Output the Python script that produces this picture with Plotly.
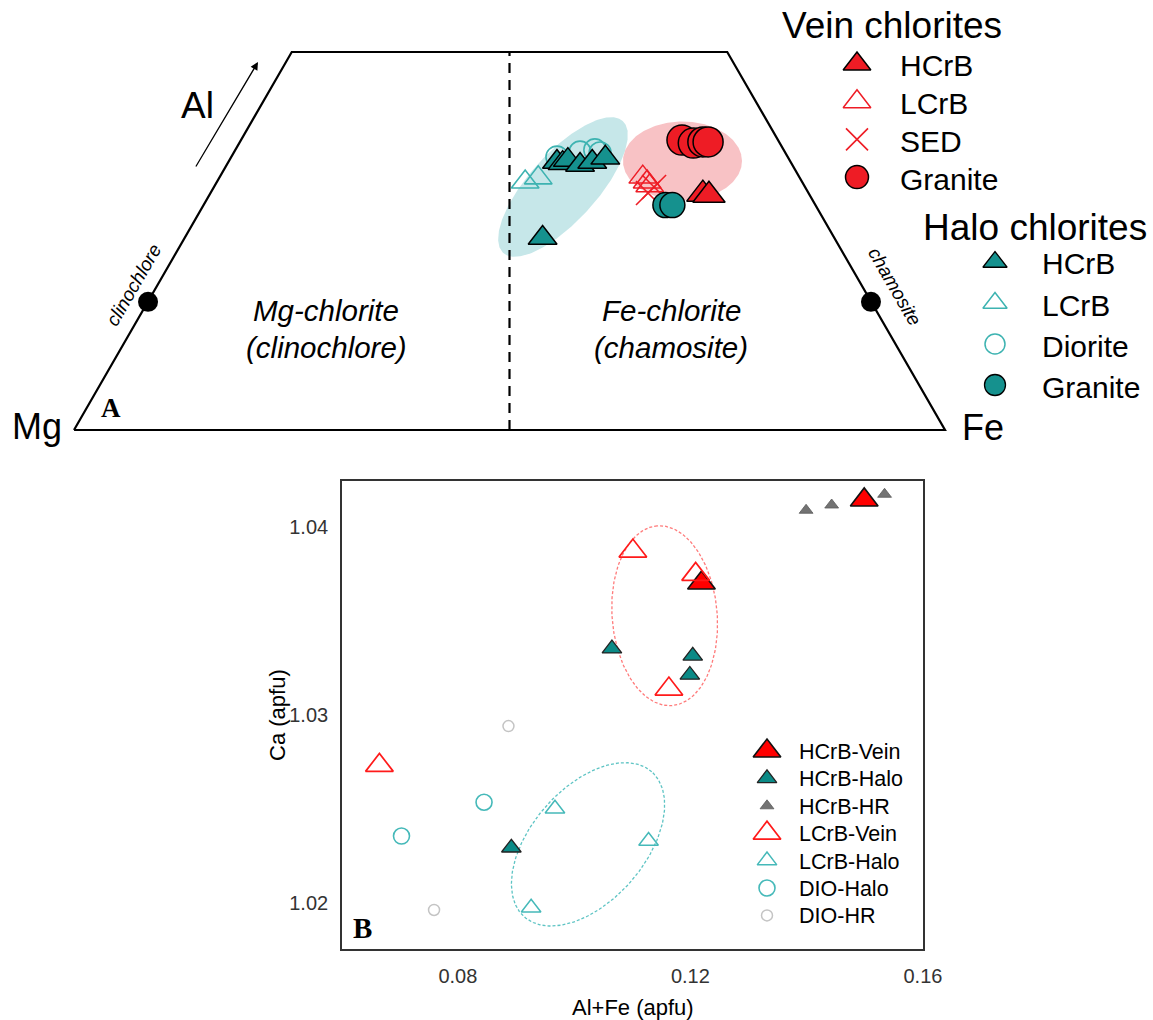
import numpy as np
import plotly.graph_objects as go

W, H = 1153, 1020

# ---------------- Panel A : chlorite classification diagram ----------------
# u : Mg (0) -> Fe (1) position ; v : Al position (0 = base, 1 = top edge)
TRAP_U = [0.0, 0.25, 0.75, 1.0, 0.0]
TRAP_V = [0.0, 1.0, 1.0, 0.0, 0.0]
DIVIDE_U = [0.5, 0.5]
DIVIDE_V = [0.0, 1.0]
END_MEMBER_U = [0.085, 0.915]
END_MEMBER_V = [0.339, 0.339]

VEIN_HCRB_U = [0.722, 0.729]
VEIN_HCRB_V = [0.624, 0.621]
VEIN_LCRB_U = [0.653, 0.658, 0.661]
VEIN_LCRB_V = [0.669, 0.656, 0.646]
VEIN_SED_U = [0.666, 0.659]
VEIN_SED_V = [0.643, 0.627]
VEIN_GRANITE_U = [0.698, 0.711, 0.722, 0.728]
VEIN_GRANITE_V = [0.767, 0.759, 0.762, 0.762]

HALO_HCRB_U = [0.5545, 0.561, 0.567, 0.581, 0.595, 0.610, 0.538]
HALO_HCRB_V = [0.709, 0.706, 0.714, 0.701, 0.709, 0.720, 0.508]
HALO_LCRB_U = [0.518, 0.533]
HALO_LCRB_V = [0.656, 0.667]
HALO_DIORITE_U = [0.5545, 0.581, 0.598, 0.604]
HALO_DIORITE_V = [0.722, 0.735, 0.741, 0.733]
HALO_GRANITE_U = [0.679, 0.687]
HALO_GRANITE_V = [0.595, 0.595]

# ellipses (center u, center v, semi-major px, semi-minor px, angle deg)
ELL_A_HALO = [0.5614, 0.6429, 89.0, 34.0, 47.85]
ELL_A_VEIN = [0.6986, 0.7116, 59.5, 39.5, 0.0]

# ---------------- Panel B : Ca vs Al+Fe ----------------
HCRB_VEIN_X = [0.1499, 0.1219]
HCRB_VEIN_Y = [1.04144, 1.03702]
HCRB_HALO_X = [0.1065, 0.1204, 0.1199, 0.0892]
HCRB_HALO_Y = [1.03353, 1.03315, 1.03213, 1.02294]
HCRB_HR_X = [0.1399, 0.1443, 0.1534]
HCRB_HR_Y = [1.04089, 1.04117, 1.04174]
LCRB_VEIN_X = [0.1101, 0.1209, 0.1163, 0.0665]
LCRB_VEIN_Y = [1.03872, 1.03748, 1.03138, 1.02732]
LCRB_HALO_X = [0.0967, 0.1128, 0.0926]
LCRB_HALO_Y = [1.02501, 1.02330, 1.01975]
DIO_HALO_X = [0.0845, 0.0703]
DIO_HALO_Y = [1.02536, 1.02356]
DIO_HR_X = [0.0887, 0.0759]
DIO_HR_Y = [1.02941, 1.01963]

ELL_B_VEIN = [0.11557, 1.03528, 90.2, 52.6, 94.8]
ELL_B_HALO = [0.10239, 1.02312, 96.6, 56.8, 48.7]

X_TICKS = [0.08, 0.12, 0.16]
Y_TICKS = [1.02, 1.03, 1.04]

# ---------------- layout geometry ----------------
A_PXU, A_PXV = 871.0, 378.0          # px per diagram unit
A_X0, A_Y0 = 74.0, 430.0             # pixel position of Mg corner
A_TOP = 440.0                        # panel A height (px)

B_L, B_R, B_T, B_B = 342.0, 923.0, 481.0, 949.0
B_PXX, B_PXY = 5819.0, 18800.0
B_XREF, B_XREFPX = 0.08, 458.0
B_YREF, B_YREFPX = 1.04, 527.0

FONT = "Arial, Liberation Sans, Helvetica, sans-serif"
SERIF = "Times New Roman, Liberation Serif, serif"

RED = "#EE1C25"
TEAL = "#15918E"
TEAL_OPEN = "#3DB3B1"


def ell(p, sx, sy, n=260):
    cx, cy, a, b, ang = p
    t = np.linspace(0, 2 * np.pi, n)
    ph = np.deg2rad(ang)
    dx = a * np.cos(t) * np.cos(ph) - b * np.sin(t) * np.sin(ph)
    dy = a * np.cos(t) * np.sin(ph) + b * np.sin(t) * np.cos(ph)
    return cx + dx / sx, cy + dy / sy


def px(x, y):
    return x / W, 1 - y / H


fig = go.Figure()

# ---- Panel A traces (x2/y2) ----
A = dict(xaxis="x2", yaxis="y2", showlegend=False, hoverinfo="skip")
ex, ey = ell(ELL_A_HALO, A_PXU, A_PXV)
fig.add_trace(go.Scatter(x=ex, y=ey, mode="lines", fill="toself",
                         fillcolor="#C6E7E9", line=dict(width=0, color="#C6E7E9"), **A))
ex, ey = ell(ELL_A_VEIN, A_PXU, A_PXV)
fig.add_trace(go.Scatter(x=ex, y=ey, mode="lines", fill="toself",
                         fillcolor="#F8C2C5", line=dict(width=0, color="#F8C2C5"), **A))
fig.add_trace(go.Scatter(x=TRAP_U, y=TRAP_V, mode="lines",
                         line=dict(color="black", width=2.2), **A))
fig.add_trace(go.Scatter(x=DIVIDE_U, y=DIVIDE_V, mode="lines",
                         line=dict(color="black", width=2.2, dash="10px,7px"), **A))
fig.add_trace(go.Scatter(x=END_MEMBER_U, y=END_MEMBER_V, mode="markers",
                         marker=dict(color="black", size=20), **A))

fig.add_trace(go.Scatter(x=HALO_DIORITE_U, y=HALO_DIORITE_V, mode="markers",
                         marker=dict(symbol="circle-open", size=22, color=TEAL_OPEN,
                                     line=dict(width=1.6)), **A))
fig.add_trace(go.Scatter(x=HALO_LCRB_U, y=HALO_LCRB_V, mode="markers",
                         marker=dict(symbol="triangle-up-open", size=24, color=TEAL_OPEN,
                                     line=dict(width=1.6)), **A))
fig.add_trace(go.Scatter(x=HALO_HCRB_U, y=HALO_HCRB_V, mode="markers",
                         marker=dict(symbol="triangle-up", size=25, color=TEAL,
                                     line=dict(width=1.5, color="black")), **A))
fig.add_trace(go.Scatter(x=VEIN_LCRB_U, y=VEIN_LCRB_V, mode="markers",
                         marker=dict(symbol="triangle-up-open", size=24, color=RED,
                                     line=dict(width=1.5)), **A))
fig.add_trace(go.Scatter(x=VEIN_SED_U, y=VEIN_SED_V, mode="markers",
                         marker=dict(symbol="x-thin-open", size=24, color=RED,
                                     line=dict(width=1.6, color=RED)), **A))
fig.add_trace(go.Scatter(x=HALO_GRANITE_U, y=HALO_GRANITE_V, mode="markers",
                         marker=dict(symbol="circle", size=25, color=TEAL,
                                     line=dict(width=1.5, color="black")), **A))
fig.add_trace(go.Scatter(x=VEIN_GRANITE_U, y=VEIN_GRANITE_V, mode="markers",
                         marker=dict(symbol="circle", size=30, color=RED,
                                     line=dict(width=1.5, color="black")), **A))
fig.add_trace(go.Scatter(x=VEIN_HCRB_U, y=VEIN_HCRB_V, mode="markers",
                         marker=dict(symbol="triangle-up", size=28, color=RED,
                                     line=dict(width=1.5, color="black")), **A))

# ---- Panel B traces (x/y) ----
B = dict(xaxis="x", yaxis="y", showlegend=False, hoverinfo="skip")
ex, ey = ell(ELL_B_VEIN, B_PXX, B_PXY)
fig.add_trace(go.Scatter(x=ex, y=ey, mode="lines",
                         line=dict(color="#FF7B7B", width=1.3, dash="3px,2px"), **B))
ex, ey = ell(ELL_B_HALO, B_PXX, B_PXY)
fig.add_trace(go.Scatter(x=ex, y=ey, mode="lines",
                         line=dict(color="#5EC4C4", width=1.3, dash="3px,2px"), **B))

B_STYLES = [
    ("HCrB-HR", HCRB_HR_X, HCRB_HR_Y, dict(symbol="triangle-up", size=12, color="#737373",
                                          line=dict(width=0.8, color="#5A5A5A"))),
    ("DIO-HR", DIO_HR_X, DIO_HR_Y, dict(symbol="circle-open", size=11, color="#C4C4C4",
                                        line=dict(width=1.5))),
    ("DIO-Halo", DIO_HALO_X, DIO_HALO_Y, dict(symbol="circle-open", size=16, color="#45B9B9",
                                              line=dict(width=1.6))),
    ("LCrB-Halo", LCRB_HALO_X, LCRB_HALO_Y, dict(symbol="triangle-up-open", size=17,
                                                 color="#45B9B9", line=dict(width=1.5))),
    ("HCrB-Halo", HCRB_HALO_X, HCRB_HALO_Y, dict(symbol="triangle-up", size=17, color="#0B8A86",
                                                 line=dict(width=1.3, color="#222222"))),
    ("HCrB-Vein", HCRB_VEIN_X, HCRB_VEIN_Y, dict(symbol="triangle-up", size=24, color="#FF0000",
                                                 line=dict(width=1.6, color="#111111"))),
    ("LCrB-Vein", LCRB_VEIN_X, LCRB_VEIN_Y, dict(symbol="triangle-up-open", size=24,
                                                 color="#FF1A1A", line=dict(width=1.7))),
]
for name, xs, ys, mk in B_STYLES:
    fig.add_trace(go.Scatter(x=xs, y=ys, mode="markers", marker=mk, name=name, **B))

# ---- Manual legends (x3/y3 = page pixels) ----
L = dict(xaxis="x3", yaxis="y3", showlegend=False, hoverinfo="skip", mode="markers")
annotations = []


def add_text(x, y, text, size, anchor="left", italic=False, font=FONT, angle=0,
             bold=False, yanchor="middle"):
    ax_, ay_ = px(x, y)
    t = text
    if italic:
        t = "<i>" + t + "</i>"
    if bold:
        t = "<b>" + t + "</b>"
    annotations.append(dict(x=ax_, y=ay_, xref="paper", yref="paper", text=t,
                            showarrow=False, xanchor=anchor, yanchor=yanchor,
                            textangle=angle, font=dict(family=font, size=size, color="black")))


TOP_VEIN_LABELS = ["HCrB", "LCrB", "SED", "Granite"]
TOP_VEIN_MARKERS = [
    dict(symbol="triangle-up", size=24, color=RED, line=dict(width=1.5, color="black")),
    dict(symbol="triangle-up-open", size=24, color=RED, line=dict(width=1.5)),
    dict(symbol="x-thin-open", size=22, color=RED, line=dict(width=1.6, color=RED)),
    dict(symbol="circle", size=23, color=RED, line=dict(width=1.5, color="black")),
]
TOP_HALO_LABELS = ["HCrB", "LCrB", "Diorite", "Granite"]
TOP_HALO_MARKERS = [
    dict(symbol="triangle-up", size=21, color=TEAL, line=dict(width=1.3, color="black")),
    dict(symbol="triangle-up-open", size=21, color=TEAL_OPEN, line=dict(width=1.5)),
    dict(symbol="circle-open", size=20, color=TEAL_OPEN, line=dict(width=1.5)),
    dict(symbol="circle", size=21, color=TEAL, line=dict(width=1.3, color="black")),
]

add_text(780, 25, "Vein chlorites", 37)
for i, (lab, mk) in enumerate(zip(TOP_VEIN_LABELS, TOP_VEIN_MARKERS)):
    yy = 64 + i * 37.7
    fig.add_trace(go.Scatter(x=[857], y=[yy], marker=mk, **L))
    add_text(898, yy + 2, lab, 30)

add_text(921, 227, "Halo chlorites", 37)
for i, (lab, mk) in enumerate(zip(TOP_HALO_LABELS, TOP_HALO_MARKERS)):
    yy = 262 + i * 41
    fig.add_trace(go.Scatter(x=[995], y=[yy], marker=mk, **L))
    add_text(1040, yy + 2, lab, 30)

B_LEG_ORDER = ["HCrB-Vein", "HCrB-Halo", "HCrB-HR", "LCrB-Vein", "LCrB-Halo", "DIO-Halo", "DIO-HR"]
bsty = {n: mk for n, _, _, mk in B_STYLES}
for i, lab in enumerate(B_LEG_ORDER):
    yy = 751 + i * 27.4
    fig.add_trace(go.Scatter(x=[767], y=[yy], marker=bsty[lab], **L))
    add_text(797, yy + 1, lab, 21.5)

# ---- Panel A labels ----
add_text(37, 426, "Mg", 36, anchor="center")
add_text(983, 427, "Fe", 36, anchor="center")
add_text(197, 106, "Al", 37, anchor="center")
add_text(111, 408, "A", 27, anchor="center", font=SERIF, bold=True)
add_text(326, 310, "Mg-chlorite", 29.5, anchor="center", italic=True)
add_text(326, 347, "(clinochlore)", 29.5, anchor="center", italic=True)
add_text(671, 310, "Fe-chlorite", 29.5, anchor="center", italic=True)
add_text(671, 347, "(chamosite)", 29.5, anchor="center", italic=True)
add_text(133, 285, "clinochlore", 19, anchor="center", italic=True, angle=-60)
add_text(895, 286, "chamosite", 19, anchor="center", italic=True, angle=60)

# arrow for Al
hx, hy = px(258, 62)
annotations.append(dict(x=hx, y=hy, xref="paper", yref="paper", text="", showarrow=True,
                        ax=195 - 258, ay=168 - 62, arrowhead=2, arrowsize=1.2,
                        arrowwidth=1.3, arrowcolor="black"))

# ---- Panel B labels ----
add_text(362, 928, "B", 29, anchor="center", font=SERIF, bold=True)
add_text((B_L + B_R) / 2, 1007, "Al+Fe (apfu)", 22, anchor="center")
add_text(277, (B_T + B_B) / 2, "Ca (apfu)", 22, anchor="center", angle=-90)

# ---------------- axes ----------------
bx_range = [B_XREF - (B_XREFPX - B_L) / B_PXX, B_XREF + (B_R - B_XREFPX) / B_PXX + 0.0001]
by_range = [B_YREF - (B_B - B_YREFPX) / B_PXY, B_YREF + (B_YREFPX - B_T) / B_PXY]

ax_common = dict(showgrid=False, zeroline=False, showline=True, linecolor="#333333",
                 linewidth=1.6, mirror=True, ticks="", automargin=False,
                 tickfont=dict(family=FONT, size=20, color="#333333"))
hidden = dict(visible=False, fixedrange=True, automargin=False, showgrid=False,
              zeroline=False)

fig.update_layout(
    template="none",
    width=W, height=H, autosize=False,
    margin=dict(l=0, r=0, t=0, b=0, pad=0, autoexpand=False),
    paper_bgcolor="white", plot_bgcolor="rgba(0,0,0,0)",
    showlegend=False,
    xaxis=dict(domain=[B_L / W, B_R / W], range=bx_range, anchor="y",
               tickvals=X_TICKS, ticktext=[f"{v:.2f}" for v in X_TICKS],
               ticklabelstandoff=8, **ax_common),
    yaxis=dict(domain=[1 - B_B / H, 1 - B_T / H], range=by_range, anchor="x",
               tickvals=Y_TICKS, ticktext=[f"{v:.2f}" for v in Y_TICKS],
               ticklabelstandoff=8, **ax_common),
    xaxis2=dict(domain=[0, 1], range=[-A_X0 / A_PXU, (W - A_X0) / A_PXU], anchor="y2",
                **hidden),
    yaxis2=dict(domain=[1 - A_TOP / H, 1],
                range=[(A_Y0 - A_TOP) / A_PXV, A_Y0 / A_PXV], anchor="x2", **hidden),
    xaxis3=dict(domain=[0, 1], range=[0, W], anchor="y3", **hidden),
    yaxis3=dict(domain=[0, 1], range=[H, 0], anchor="x3", **hidden),
    annotations=annotations,
)

post = (
    "document.documentElement.style.overflow='hidden';"
    "document.body.style.overflow='hidden';"
    "document.body.style.margin='0';"
)

fig.write_html("out.html",
               config={"displayModeBar": False, "responsive": False},
               post_script=post)
